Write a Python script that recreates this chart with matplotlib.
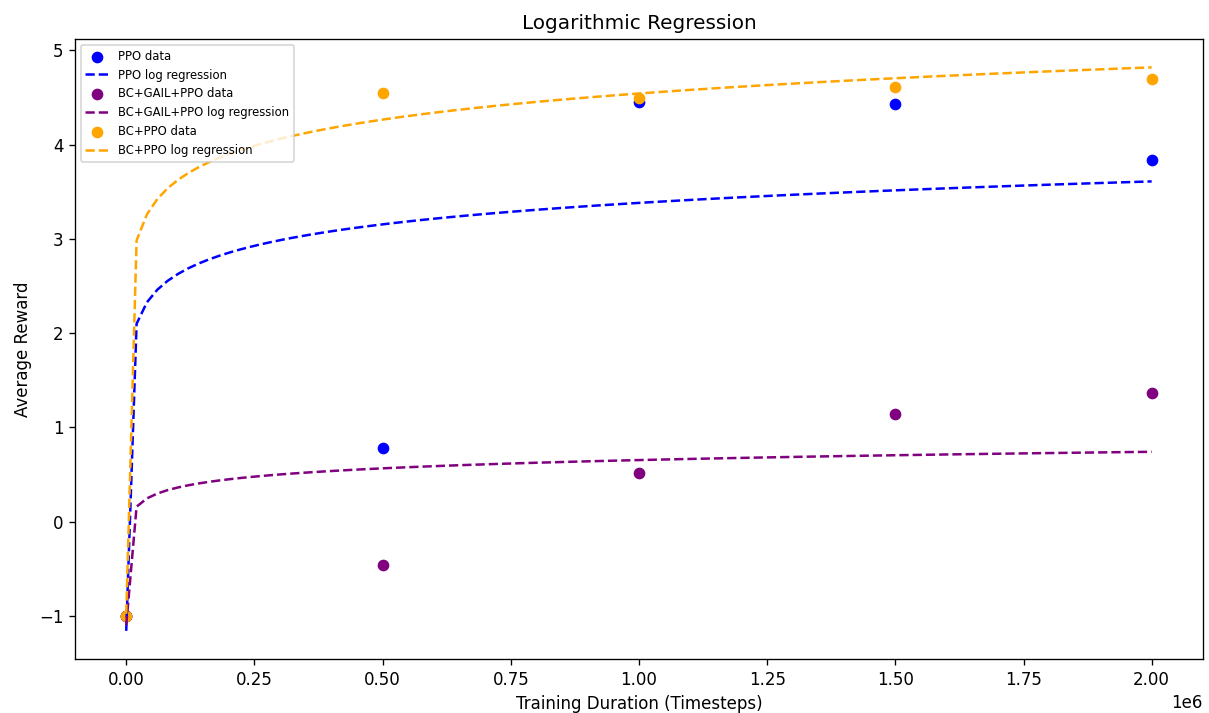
import numpy as np
import matplotlib
matplotlib.use("Agg")
import matplotlib.pyplot as plt

timesteps = np.array([0, 500000, 1000000, 1500000, 2000000])
ppo = np.array([-1.0, 0.78, 4.45, 4.43, 3.84])
bc_gail_ppo = np.array([-1.0, -0.46, 0.52, 1.14, 1.37])
bc_ppo = np.array([-1.0, 4.55, 4.49, 4.61, 4.70])

series = [
    ("PPO", ppo, "blue"),
    ("BC+GAIL+PPO", bc_gail_ppo, "purple"),
    ("BC+PPO", bc_ppo, "orange"),
]

x_fit = np.linspace(0, timesteps.max(), 100)

fig, ax = plt.subplots(figsize=(1209 / 120, 713 / 120), dpi=120)
for name, y, c in series:
    # y = a + b*ln(x+1)
    b, a = np.polyfit(np.log(timesteps + 1), y, 1)
    ax.scatter(timesteps, y, color=c, label=f"{name} data")
    ax.plot(x_fit, a + b * np.log(x_fit + 1), "--", color=c, label=f"{name} log regression")

ax.set_title("Logarithmic Regression")
ax.set_xlabel("Training Duration (Timesteps)")
ax.set_ylabel("Average Reward")
ax.legend(loc="upper left", fontsize=7)
fig.subplots_adjust(left=0.062, right=0.995, top=0.945, bottom=0.0757)
fig.savefig("out.png", dpi=120)
